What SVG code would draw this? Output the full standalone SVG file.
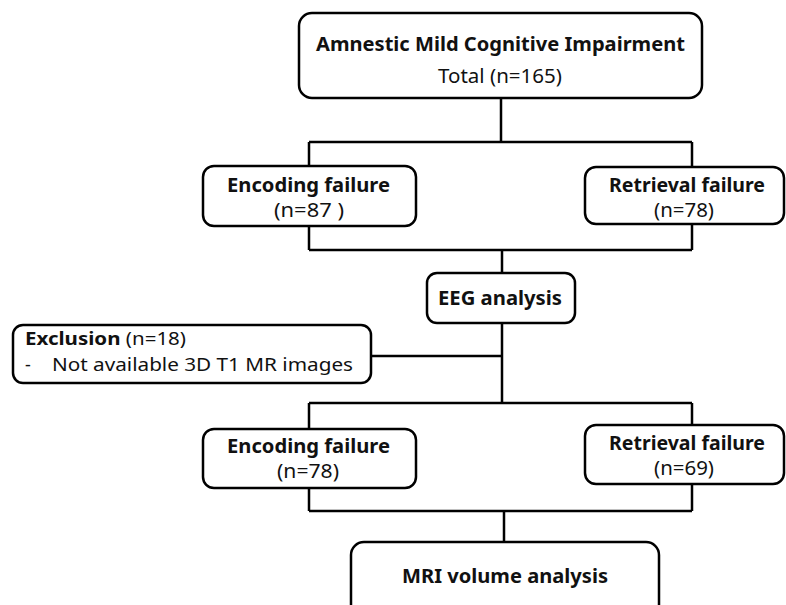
<svg xmlns="http://www.w3.org/2000/svg" width="786" height="605" viewBox="0 0 786 605">
<style>
.box{fill:#fff;stroke:#000;stroke-width:2.5}
.ln{fill:none;stroke:#000;stroke-width:2.5}
text{font-family:"Noto Sans","Open Sans","Liberation Sans",sans-serif;font-size:19.5px;fill:#111}
.b{font-weight:bold}
.c{text-anchor:middle}
.s{font-size:18px}
</style>
<rect width="786" height="605" fill="#fff"/>
<g id="connectors">
<path class="ln" d="M501,98 V142 M309,142 H692 M309,142 V166 M692,142 V168 M309,226 V250 M692,223 V250 M309,250 H692 M502,250 V273 M502,323 V403 M371,356 H502 M309,403 H692 M309,403 V429 M692,403 V425 M309,488 V511 M692,484 V511 M309,511 H692 M504,511 V542"/>
</g>
<g id="amci">
<rect class="box" x="299" y="13" width="403" height="85" rx="13"/>
<text class="b c" x="500.5" y="51" textLength="369" lengthAdjust="spacingAndGlyphs">Amnestic Mild Cognitive Impairment</text>
<text class="c" x="500" y="83" textLength="124" lengthAdjust="spacingAndGlyphs">Total  (n=165)</text>
</g>
<g id="enc1">
<rect class="box" x="203" y="166" width="213" height="60" rx="11"/>
<text class="b c" x="308.5" y="192" textLength="163" lengthAdjust="spacingAndGlyphs">Encoding failure</text>
<text class="c" x="309" y="217" textLength="70" lengthAdjust="spacingAndGlyphs">(n=87 )</text>
</g>
<g id="ret1">
<rect class="box" x="585" y="167" width="199" height="57" rx="11"/>
<text class="b c" x="687" y="192" textLength="156" lengthAdjust="spacingAndGlyphs">Retrieval failure</text>
<text class="c" x="684" y="217" textLength="60" lengthAdjust="spacingAndGlyphs">(n=78)</text>
</g>
<g id="eeg">
<rect class="box" x="427" y="273" width="148" height="50" rx="10"/>
<text class="b c" x="500" y="305" textLength="124" lengthAdjust="spacingAndGlyphs">EEG analysis</text>
</g>
<g id="exclusion">
<rect class="box" x="13" y="325" width="358" height="58" rx="10"/>
<text class="s" x="25" y="345" textLength="161" lengthAdjust="spacingAndGlyphs"><tspan class="b">Exclusion</tspan> (n=18)</text>
<text class="s" x="25" y="371">-   <tspan x="52" textLength="301" lengthAdjust="spacingAndGlyphs">Not available 3D T1 MR images</tspan></text>
</g>
<g id="enc2">
<rect class="box" x="203" y="429" width="213" height="59" rx="11"/>
<text class="b c" x="308.5" y="453" textLength="163" lengthAdjust="spacingAndGlyphs">Encoding failure</text>
<text class="c" x="308" y="478" textLength="62" lengthAdjust="spacingAndGlyphs">(n=78)</text>
</g>
<g id="ret2">
<rect class="box" x="585" y="425" width="199" height="59" rx="11"/>
<text class="b c" x="687" y="450" textLength="156" lengthAdjust="spacingAndGlyphs">Retrieval failure</text>
<text class="c" x="684" y="475" textLength="60" lengthAdjust="spacingAndGlyphs">(n=69)</text>
</g>
<g id="mri">
<rect class="box" x="351" y="542" width="308" height="80" rx="13"/>
<text class="b c" x="505" y="583" textLength="206" lengthAdjust="spacingAndGlyphs">MRI volume analysis</text>
</g>
</svg>
